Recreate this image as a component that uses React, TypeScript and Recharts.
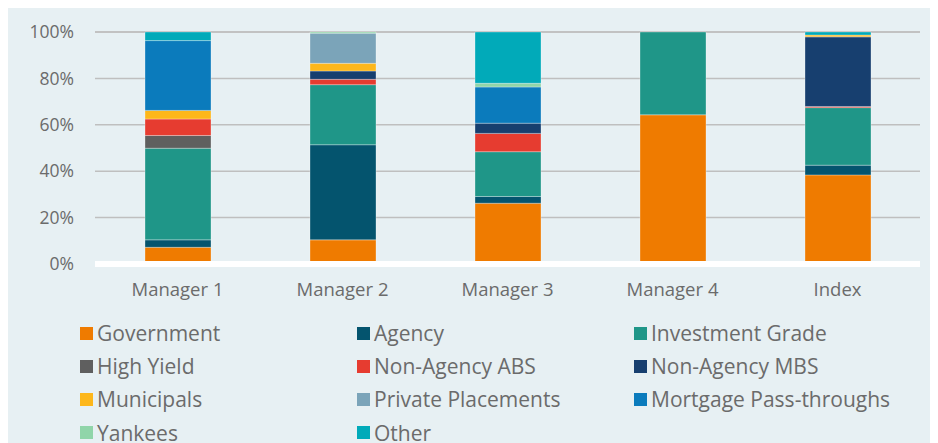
import React from 'react';
import { BarChart, Bar, XAxis, YAxis, CartesianGrid } from 'recharts';

// Portfolio sector allocation, % of each bar
const categories = ['Manager 1', 'Manager 2', 'Manager 3', 'Manager 4', 'Index'];

const government = [7.2, 10.4, 26.2, 64.3, 38.4];
const agency = [3.2, 41.0, 2.9, 0, 4.2];
const investmentGrade = [39.5, 25.9, 19.3, 35.7, 24.8];
const highYield = [5.5, 0, 0, 0, 0];
const nonAgencyAbs = [7.1, 2.3, 7.9, 0, 0.5];
const nonAgencyMbs = [0, 3.6, 4.4, 0, 30.0];
const municipals = [3.7, 3.3, 0, 0, 0.8];
const privatePlacements = [0, 13.0, 0, 0, 0];
const mortgagePassThroughs = [30.1, 0, 15.6, 0, 0];
const yankees = [0, 0.5, 1.6, 0, 0];
const other = [3.7, 0, 22.1, 0, 1.3];

const yTicks = [0, 20, 40, 60, 80, 100];

const series = [
  { key: 'government', label: 'Government', color: '#ef7b00', values: government },
  { key: 'agency', label: 'Agency', color: '#04546e', values: agency },
  { key: 'investmentGrade', label: 'Investment Grade', color: '#1f9688', values: investmentGrade },
  { key: 'highYield', label: 'High Yield', color: '#5f5f5f', values: highYield },
  { key: 'nonAgencyAbs', label: 'Non-Agency ABS', color: '#e63c30', values: nonAgencyAbs },
  { key: 'nonAgencyMbs', label: 'Non-Agency MBS', color: '#173f6f', values: nonAgencyMbs },
  { key: 'municipals', label: 'Municipals', color: '#fdb71b', values: municipals },
  { key: 'privatePlacements', label: 'Private Placements', color: '#7ba4b9', values: privatePlacements },
  { key: 'mortgagePassThroughs', label: 'Mortgage Pass-throughs', color: '#0b7bbc', values: mortgagePassThroughs },
  { key: 'yankees', label: 'Yankees', color: '#90d5a9', values: yankees },
  { key: 'other', label: 'Other', color: '#01aab9', values: other },
];

const data = categories.map((name, i) => {
  const row: Record<string, any> = { name };
  series.forEach(s => {
    row[s.key] = s.values[i];
  });
  return row;
});

const FONT = '"Open Sans", Lato, sans-serif';
const TEXT = '#6b6b6b';

const App: React.FC = () => {
  return (
    <div
      style={{
        width: 930,
        height: 436,
        background: '#e7f0f3',
        position: 'relative',
        fontFamily: FONT,
      }}
    >
      <BarChart
        width={930}
        height={300}
        data={data}
        margin={{ top: 24, right: 18, left: 0, bottom: 14 }}
      >
        <CartesianGrid vertical={false} stroke="#bfbfbf" strokeWidth={1.5} />
        <XAxis
          dataKey="name"
          height={30}
          tickLine={false}
          tickSize={0}
          tickMargin={19}
          axisLine={{ stroke: '#ffffff', strokeWidth: 6 }}
          tick={{ fill: TEXT, fontSize: 18.5, fontFamily: FONT }}
        />
        <YAxis
          width={87}
          domain={[0, 100]}
          ticks={yTicks}
          tickFormatter={(v: number) => `${v}%`}
          axisLine={false}
          tickLine={false}
          tickSize={0}
          tickMargin={21}
          tick={{ fill: TEXT, fontSize: 17.5, fontFamily: FONT }}
        />
        {series.map(s => (
          <Bar
            key={s.key}
            dataKey={s.key}
            stackId="a"
            fill={s.color}
            barSize={66}
            stroke="rgba(255,255,255,0.3)"
            strokeWidth={1}
            isAnimationActive={false}
          />
        ))}
      </BarChart>

      {/* legend, 3 columns */}
      {series.map((s, i) => {
        const col = i % 3;
        const row = Math.floor(i / 3);
        return (
          <div
            key={s.key}
            style={{
              position: 'absolute',
              left: 72 + col * 277,
              top: 325 + row * 33.2 - 10,
              height: 20,
              display: 'flex',
              alignItems: 'center',
              gap: 4,
              whiteSpace: 'nowrap',
            }}
          >
            <div style={{ width: 13, height: 13, background: s.color }}></div>
            <span style={{ color: TEXT, fontSize: 21, lineHeight: '20px' }}>{s.label}</span>
          </div>
        );
      })}
    </div>
  );
};

export default App;
